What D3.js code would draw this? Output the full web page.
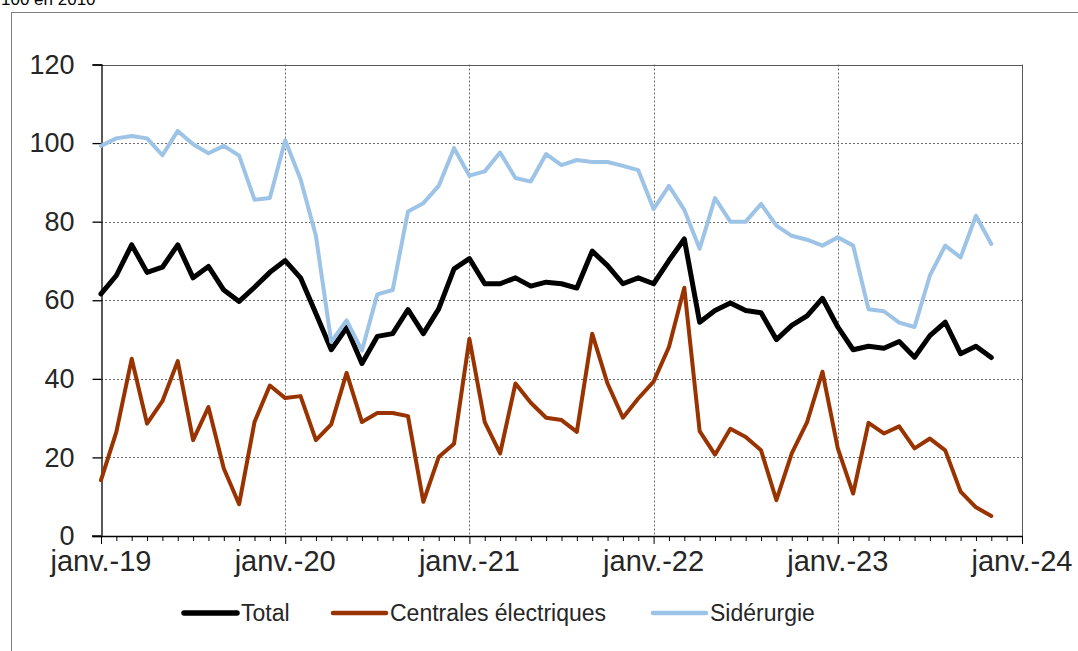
<!DOCTYPE html>
<html>
<head>
<meta charset="utf-8">
<script src="https://cdn.jsdelivr.net/npm/d3@7"></script>
<style>
  body { margin: 0; background: #fff; }
  svg { font-family: "Liberation Sans", Arial, sans-serif; }
</style>
</head>
<body>
<svg id="chart" width="1078" height="651"></svg>
<script>
// monthly values, janv. 2019 -> nov. 2023 (indice 100 en 2010)
var total = [61.6, 66.3, 74.1, 67.1, 68.4, 74.1, 65.7, 68.6, 62.6, 59.7, 63.3, 67.1,
  70.1, 65.7, 56.6, 47.4, 53.0, 43.9, 50.8, 51.5, 57.6, 51.5, 57.8, 68.0,
  70.6, 64.2, 64.2, 65.7, 63.6, 64.6, 64.2, 63.1, 72.5, 68.8, 64.2, 65.7,
  64.2, 70.1, 75.6, 54.4, 57.4, 59.3, 57.4, 56.8, 50.0, 53.6, 56.0, 60.5,
  53.2, 47.4, 48.3, 47.8, 49.5, 45.5, 51.0, 54.4, 46.4, 48.3, 45.4];

var centrales = [14.2, 26.5, 45.1, 28.6, 34.3, 44.5, 24.4, 32.8, 17.2, 8.1, 29.0, 38.3,
  35.1, 35.6, 24.4, 28.4, 41.5, 29.0, 31.3, 31.3, 30.5, 8.7, 20.1, 23.5,
  50.2, 29.0, 21.0, 38.8, 33.9, 30.1, 29.5, 26.5, 51.5, 38.8, 30.1, 35.0,
  39.3, 48.1, 63.2, 26.7, 20.7, 27.3, 25.2, 21.8, 9.1, 21.0, 29.0, 41.8,
  22.3, 10.8, 28.8, 26.1, 27.9, 22.3, 24.8, 21.8, 11.3, 7.3, 5.1];

var siderurgie = [99.3, 101.2, 101.8, 101.2, 96.9, 103.1, 99.7, 97.4, 99.3, 96.8, 85.6, 86.0,
  100.7, 90.8, 76.4, 49.4, 54.9, 47.2, 61.5, 62.6, 82.6, 84.7, 89.1, 98.7,
  91.7, 92.8, 97.6, 91.1, 90.2, 97.2, 94.4, 95.7, 95.2, 95.2, 94.2, 93.1,
  83.2, 89.1, 83.0, 73.1, 86.0, 80.0, 80.0, 84.5, 79.0, 76.4, 75.4, 73.9,
  76.0, 73.9, 57.7, 57.2, 54.3, 53.2, 66.3, 73.9, 70.9, 81.5, 74.3];

var yearLabels = ['janv.-19', 'janv.-20', 'janv.-21', 'janv.-22', 'janv.-23', 'janv.-24'];
var yTicks = [0, 20, 40, 60, 80, 100, 120];

var seriesNames = ['Total', 'Centrales électriques', 'Sidérurgie'];
var seriesColors = ['#000000', '#993300', '#9dc3e6'];
var seriesWidths = [5, 4, 4];

var svg = d3.select('#chart');

var LEFT = 101, RIGHT = 1022, TOP = 64.5, BOTTOM = 536,
  N_MONTHS = 60;

var x = d3.scaleLinear().domain([0, N_MONTHS]).range([LEFT, RIGHT]);
var y = d3.scaleLinear().domain([0, 120]).range([BOTTOM, TOP]);

// unit label, partly cut at the top
svg.append('text')
  .attr('x', 1)
  .attr('y', 5)
  .style('font-size', '17px')
  .attr('fill', '#000')
  .text('100 en 2010');

// outer frame
svg.append('rect')
  .attr('x', 11.5)
  .attr('y', 12.5)
  .attr('width', 1078)
  .attr('height', 660)
  .attr('fill', 'none')
  .attr('stroke', '#7f7f7f')
  .attr('stroke-width', 1);

// horizontal gridlines
svg.append('g')
  .selectAll('line')
  .data(yTicks.slice(1))
  .enter()
  .append('line')
    .attr('x1', LEFT)
    .attr('x2', RIGHT)
    .attr('y1', function(d) { return Math.round(y(d)) + 0.5; })
    .attr('y2', function(d) { return Math.round(y(d)) + 0.5; })
    .attr('stroke', '#6e6e6e')
    .attr('stroke-width', 1)
    .attr('stroke-dasharray', '2,2');

// vertical gridlines at each janvier
svg.append('g')
  .selectAll('line')
  .data(d3.range(1, yearLabels.length))
  .enter()
  .append('line')
    .attr('x1', function(d) { return Math.round(x(d * 12)) + 0.5; })
    .attr('x2', function(d) { return Math.round(x(d * 12)) + 0.5; })
    .attr('y1', TOP)
    .attr('y2', BOTTOM)
    .attr('stroke', '#6e6e6e')
    .attr('stroke-width', 1)
    .attr('stroke-dasharray', '2,2');

// plot area border (top + right)
svg.append('path')
  .attr('d', 'M' + LEFT + ',' + (Math.round(TOP) + 0.5) + 'H' + (Math.round(RIGHT) + 0.5) + 'V' + BOTTOM)
  .attr('fill', 'none')
  .attr('stroke', '#5a5a5a')
  .attr('stroke-width', 1);

// y axis
var yAxis = d3.axisLeft(y)
  .tickValues(yTicks)
  .tickSize(9)
  .tickPadding(18)
  .tickFormat(d3.format('d'));

var yG = svg.append('g')
  .attr('transform', 'translate(' + (LEFT + 0.5) + ',0)')
  .call(yAxis);
yG.select('.domain').attr('stroke', '#000').attr('stroke-width', 1.3);
yG.selectAll('.tick line').attr('stroke', '#000').attr('stroke-width', 1.3);
yG.selectAll('.tick text')
  .attr('fill', '#262626')
  .style('font-size', '27px')
  .style('font-family', '"Liberation Sans", Arial, sans-serif');

// x axis: a tick every month, labels every janvier
var xAxis = d3.axisBottom(x)
  .tickValues(d3.range(0, N_MONTHS + 1))
  .tickSize(5)
  .tickSizeOuter(0)
  .tickFormat('');

var xG = svg.append('g')
  .attr('transform', 'translate(0,' + BOTTOM + ')')
  .call(xAxis);
xG.select('.domain').attr('stroke', '#000').attr('stroke-width', 1.3);
xG.selectAll('.tick line')
  .attr('stroke', '#000')
  .attr('stroke-width', 1)
  .attr('y2', function(d) { return d % 12 === 0 ? 8 : 5; });

svg.append('line')
  .attr('x1', LEFT - 9)
  .attr('x2', LEFT)
  .attr('y1', BOTTOM)
  .attr('y2', BOTTOM)
  .attr('stroke', '#000')
  .attr('stroke-width', 1.3);

svg.append('g')
  .selectAll('text')
  .data(yearLabels)
  .enter()
  .append('text')
    .attr('x', function(d, i) { return x(i * 12); })
    .attr('y', BOTTOM + 35)
    .style('text-anchor', 'middle')
    .style('font-size', '29px')
    .attr('fill', '#262626')
    .text(function(d) { return d; });

// series lines
var allSeries = [total, centrales, siderurgie];
var line = d3.line()
  .x(function(d, i) { return x(i); })
  .y(function(d) { return y(d); });

svg.append('g')
  .selectAll('path')
  .data(allSeries)
  .enter()
  .append('path')
    .attr('d', function(d) { return line(d); })
    .attr('fill', 'none')
    .attr('stroke', function(d, i) { return seriesColors[i]; })
    .attr('stroke-width', function(d, i) { return seriesWidths[i]; })
    .attr('stroke-linejoin', 'round')
    .attr('stroke-linecap', 'round');

// legend
var legendX = [184, 333, 653];
var legend = svg.append('g')
  .selectAll('g')
  .data(seriesNames)
  .enter()
  .append('g')
    .attr('transform', function(d, i) { return 'translate(' + legendX[i] + ',613)'; });

legend.append('line')
  .attr('x1', 0)
  .attr('x2', 53)
  .attr('stroke', function(d, i) { return seriesColors[i]; })
  .attr('stroke-width', function(d, i) { return seriesWidths[i] + 0.5; })
  .attr('stroke-linecap', 'round');

legend.append('text')
  .attr('x', 57)
  .attr('y', 8)
  .style('font-size', '23px')
  .attr('fill', '#262626')
  .text(function(d) { return d; });
</script>
</body>
</html>
